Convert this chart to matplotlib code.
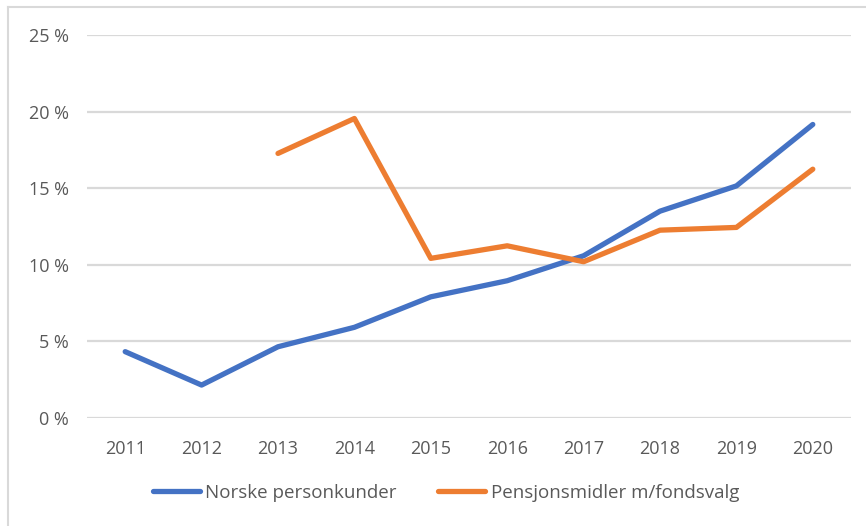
import matplotlib
matplotlib.use("Agg")
import matplotlib.pyplot as plt
from matplotlib.lines import Line2D
import numpy as np

years = [2011, 2012, 2013, 2014, 2015, 2016, 2017, 2018, 2019, 2020]
personkunder = [4.33, 2.15, 4.65, 5.92, 7.91, 8.96, 10.59, 13.5, 15.15, 19.16]
pensjon = [np.nan, np.nan, 17.27, 19.55, 10.42, 11.24, 10.2, 12.26, 12.44, 16.24]
yticks = [0, 5, 10, 15, 20, 25]

blue = "#4472C4"
orange = "#ED7D31"
grey_text = "#595959"
grid_col = "#D9D9D9"

plt.rcParams['font.family'] = ['Open Sans', 'DejaVu Sans']

fig = plt.figure(figsize=(8.66, 5.26), dpi=100)
ax = fig.add_axes([87/866, 1-418/526, (851-87)/866, (418-35)/526])

x = np.arange(len(years))
ax.plot(x, personkunder, color=blue, lw=3.8, solid_capstyle='round', solid_joinstyle='round',
        label="Norske personkunder")
ax.plot(x, pensjon, color=orange, lw=3.8, solid_capstyle='round', solid_joinstyle='round',
        label="Pensjonsmidler m/fondsvalg")

ax.set_xlim(-0.5, len(years) - 0.5)
ax.set_ylim(0, 25)
ax.set_yticks(yticks)
ax.set_yticklabels([f"{v} %" for v in yticks])
ax.set_xticks(x)
ax.set_xticklabels([str(y) for y in years])
ax.tick_params(axis='both', length=0, labelsize=13, colors=grey_text)
ax.tick_params(axis='y', pad=13)
ax.tick_params(axis='x', pad=16)
ax.grid(axis='y', color=grid_col, lw=1.6)
ax.set_axisbelow(True)
for s in ax.spines.values():
    s.set_visible(False)

handles = [Line2D([], [], color=blue, lw=3.8, solid_capstyle='round'),
           Line2D([], [], color=orange, lw=3.8, solid_capstyle='round')]
leg = fig.legend(handles, ["Norske personkunder", "Pensjonsmidler m/fondsvalg"],
                 loc='center', bbox_to_anchor=(446/866, 1-493/526), ncol=2, frameon=False,
                 fontsize=13.5, handlelength=2.5, handletextpad=0.3, columnspacing=2.2)
for t in leg.get_texts():
    t.set_color(grey_text)

# chart border (only top/left visible in reference)
fig.add_artist(Line2D([8/866, 8/866], [0, 1-7/526], color=grid_col, lw=1.5))
fig.add_artist(Line2D([8/866, 1], [1-7/526, 1-7/526], color=grid_col, lw=1.5))

fig.savefig("out.png", dpi=100)
